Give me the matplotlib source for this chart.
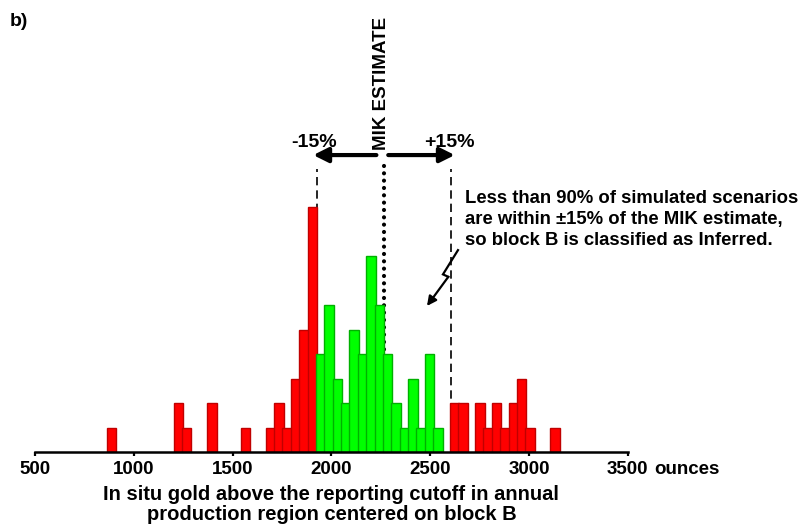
import numpy as np
import matplotlib.pyplot as plt

plt.rcParams['font.family'] = ['Liberation Sans', 'DejaVu Sans']

# histogram of the 100 simulated scenarios (ounces)
bin_first = 886.0     # centre of the first bin
bin_step = 42.4       # bin width
counts = [1, 0, 0, 0, 0, 0, 0, 0, 2, 1, 0, 0, 2, 0, 0, 0, 1, 0, 0,
          1, 2, 1, 3, 5, 10,
          4, 6, 3, 2, 5, 4, 8, 6, 4, 2, 1, 3, 1, 4, 1,
          0, 2, 2, 0, 2, 1, 2, 1, 2, 3, 1, 0, 0, 1]
mik_estimate = 2265.0
tolerance = 0.15
tick_values = [500, 1000, 1500, 2000, 2500, 3000, 3500]

lower = mik_estimate * (1 - tolerance)
upper = mik_estimate * (1 + tolerance)
centres = bin_first + bin_step * np.arange(len(counts))
inside = (centres >= lower) & (centres <= upper)

fig = plt.figure(figsize=(7.98, 5.29), dpi=100)
ax = fig.add_axes([35 / 798, 1 - 452 / 529, 592.7 / 798, 452 / 529])
ax.set_xlim(500, 3500)
ax.set_ylim(0, 452 / 24.5)

# reference lines behind the bars
ax.plot([mik_estimate, mik_estimate], [0, 11.85], color='black', lw=3.0,
        linestyle=(0, (0.01, 1.75)), dash_capstyle='round', zorder=1)
for b in (lower, upper):
    ax.plot([b, b], [0, 11.55], color='black', lw=1.2,
            linestyle=(0, (5, 3)), zorder=1)

# bars drawn left to right, slightly overlapping like the original
for c, n, ok in zip(centres, counts, inside):
    if n == 0:
        continue
    ax.bar(c, n, width=48, color='#00ff00' if ok else '#ff0000',
           edgecolor='#00b000' if ok else '#c00000', linewidth=1.0, zorder=2)

# +/-15% arrows
ay = 12.12
ax.annotate('', xy=(lower - 17, ay), xytext=(mik_estimate - 37, ay),
            arrowprops=dict(arrowstyle='-|>', lw=3, color='black',
                            mutation_scale=22, shrinkA=0, shrinkB=0))
ax.annotate('', xy=(upper + 20, ay), xytext=(mik_estimate + 23, ay),
            arrowprops=dict(arrowstyle='-|>', lw=3, color='black',
                            mutation_scale=22, shrinkA=0, shrinkB=0))
ax.text(lower - 15, 12.45, '-15%', ha='center', va='baseline',
        fontsize=14, fontweight='bold')
ax.text(upper - 5, 12.45, '+15%', ha='center', va='baseline',
        fontsize=14, fontweight='bold')
ax.text(mik_estimate - 12, 12.33, 'MIK ESTIMATE', rotation=90, ha='center',
        va='bottom', fontsize=13.5, fontweight='bold')

ax.text(2676, 10.7, 'Less than 90% of simulated scenarios\n'
        'are within \u00b115% of the MIK estimate,\n'
        'so block B is classified as Inferred.',
        ha='left', va='top', fontsize=13.3, fontweight='bold', linespacing=1.3)

# lightning-style pointer
ax.plot([2641, 2565, 2592], [8.24, 7.25, 7.15], color='black', lw=1.6,
        solid_joinstyle='miter', zorder=3)
ax.annotate('', xy=(2484, 5.96), xytext=(2592, 7.15),
            arrowprops=dict(arrowstyle='-|>', lw=1.6, color='black',
                            mutation_scale=14, shrinkA=0, shrinkB=0))

for s in ('left', 'right', 'top'):
    ax.spines[s].set_visible(False)
ax.spines['bottom'].set_linewidth(1.8)
ax.set_yticks([])
ax.set_xticks(tick_values)
ax.set_xticklabels([str(t) for t in tick_values], fontweight='bold')
ax.tick_params(axis='x', direction='out', length=3, width=1.6, pad=3.5,
               labelsize=13.5)
ax.annotate('ounces', xy=(tick_values[-1], 0), xycoords='data',
            xytext=(19, -6.5), textcoords='offset points', ha='left',
            va='top', fontsize=13.5, fontweight='bold')
ax.set_xlabel('In situ gold above the reporting cutoff in annual\n'
              'production region centered on block B',
              fontsize=14.5, fontweight='bold', labelpad=5, linespacing=1.1)

fig.text(10 / 798, 1 - 22 / 529, 'b)', ha='left', va='center',
         fontsize=14, fontweight='bold')

fig.savefig('out.png', dpi=100)
